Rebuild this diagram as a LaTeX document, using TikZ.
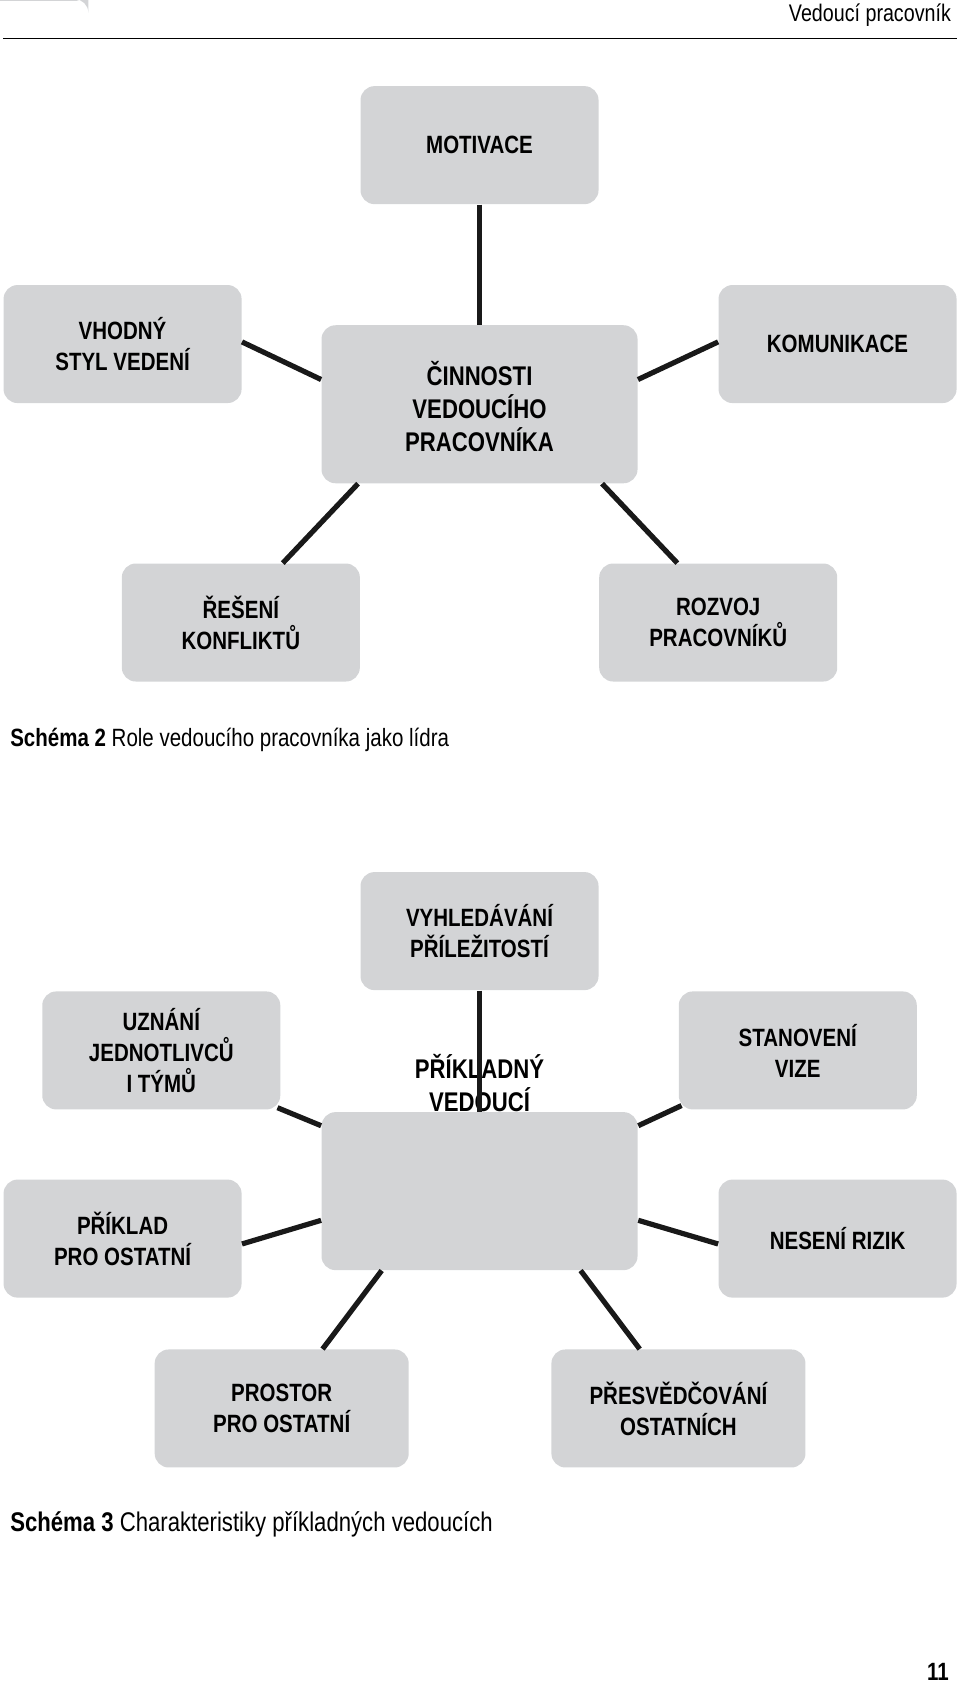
\documentclass[tikz,border=0pt]{standalone}
\usepackage{fontspec}
\setmainfont{Liberation Sans}[FakeStretch=0.82]
\usetikzlibrary{calc}
\begin{document}
\begin{tikzpicture}[x=0.5375pt,y=-0.5375pt,
  box/.style={fill=boxgray,rounded corners=7pt,inner sep=0pt,align=center,font=\bfseries\fontsize{12.5}{15.5}\selectfont},
  con/.style={line width=2.6pt,black!90}]
\definecolor{boxgray}{HTML}{D3D4D6}
\useasboundingbox (0,0) rectangle (893,1570);
% header
\node[anchor=east,font=\fontsize{12}{14}\selectfont] (hdr) at (891,14) {Vedoucí pracovník};
\coordinate (hl) at (3,36); \coordinate (hr) at (890,36);
\draw[line width=0.7pt] (hl) -- (hr);
% diagram 1
\node[box,minimum width=221\pgflinewidth] at (0,0) {};
\node[box,minimum width=119pt,minimum height=59pt] (mot) at (446,135) {MOTIVACE};
\node[box,minimum width=119pt,minimum height=59pt] (vho) at (114,320) {VHODNÝ\\STYL VEDENÍ};
\node[box,minimum width=119pt,minimum height=59pt] (kom) at (779,320) {KOMUNIKACE};
\node[box,minimum width=158pt,minimum height=79pt,font=\bfseries\fontsize{13.5}{16.5}\selectfont] (cin) at (446,376) {\\[-2pt]ČINNOSTI\\VEDOUCÍHO\\PRACOVNÍKA};
\node[box,minimum width=119pt,minimum height=59pt] (res) at (224,579) {ŘEŠENÍ\\KONFLIKTŮ};
\node[box,minimum width=119pt,minimum height=59pt] (roz) at (668,579) {ROZVOJ\\PRACOVNÍKŮ};
\draw[con] (mot.south) -- (cin.north);
\draw[con] ($(vho.east)+(0,-2)$) -- ($(cin.west)+(0,-23)$);
\draw[con] ($(kom.west)+(0,-2)$) -- ($(cin.east)+(0,-23)$);
\draw[con] ($(res.north)+(39,0)$) -- ($(cin.south)+(-113,0)$);
\draw[con] ($(roz.north)+(-38,0)$) -- ($(cin.south)+(114,0)$);
\node[anchor=west,font=\fontsize{12.5}{15}\selectfont] (cap2) at (3,688) {\textbf{Schéma 2} Role vedoucího pracovníka jako lídra};
% diagram 2
\node[box,minimum width=119pt,minimum height=59pt] (vyh) at (446,866) {VYHLEDÁVÁNÍ\\PŘÍLEŽITOSTÍ};
\node[box,minimum width=119pt,minimum height=59pt] (uzn) at (150,977) {UZNÁNÍ\\JEDNOTLIVCŮ\\I TÝMŮ};
\node[box,minimum width=119pt,minimum height=59pt] (sta) at (742,977) {STANOVENÍ\\VIZE};
\node[box,minimum width=158pt,minimum height=79pt,text height=13pt,anchor=north,font=\bfseries\fontsize{13.5}{16.5}\selectfont] (pri) at (446,1034) {\\[-12pt]PŘÍKLADNÝ\\VEDOUCÍ\\[30pt]\mbox{}};
\node[box,minimum width=119pt,minimum height=59pt] (pro) at (114,1152) {PŘÍKLAD\\PRO OSTATNÍ};
\node[box,minimum width=119pt,minimum height=59pt] (nes) at (779,1152) {NESENÍ RIZIK};
\node[box,minimum width=127pt,minimum height=59pt] (prs) at (262,1310) {PROSTOR\\PRO OSTATNÍ};
\node[box,minimum width=127pt,minimum height=59pt] (pre) at (631,1310) {PŘESVĚDČOVÁNÍ\\OSTATNÍCH};
\draw[con] (vyh.south) -- (pri.north);
\draw[con] ($(uzn.south east)+(-3,-2)$) -- ($(pri.north west)+(0,13)$);
\draw[con] ($(sta.south west)+(3,-4)$) -- ($(pri.north west)+(295,13)$);
\draw[con] ($(pro.east)+(0,5)$) -- ($(pri.north west)+(0,101)$);
\draw[con] ($(nes.west)+(0,5)$) -- ($(pri.north west)+(295,101)$);
\draw[con] ($(prs.north)+(38,0)$) -- ($(pri.south)+(-91,0)$);
\draw[con] ($(pre.north)+(-36,0)$) -- ($(pri.south)+(94,0)$);
\node[anchor=west,font=\fontsize{13.5}{16}\selectfont] (cap3) at (3,1418) {\textbf{Schéma 3} Charakteristiky příkladných vedoucích};
\node[anchor=east,font=\bfseries\fontsize{12.5}{15}\selectfont] (pg) at (889,1555) {11};
\end{tikzpicture}
\end{document}
